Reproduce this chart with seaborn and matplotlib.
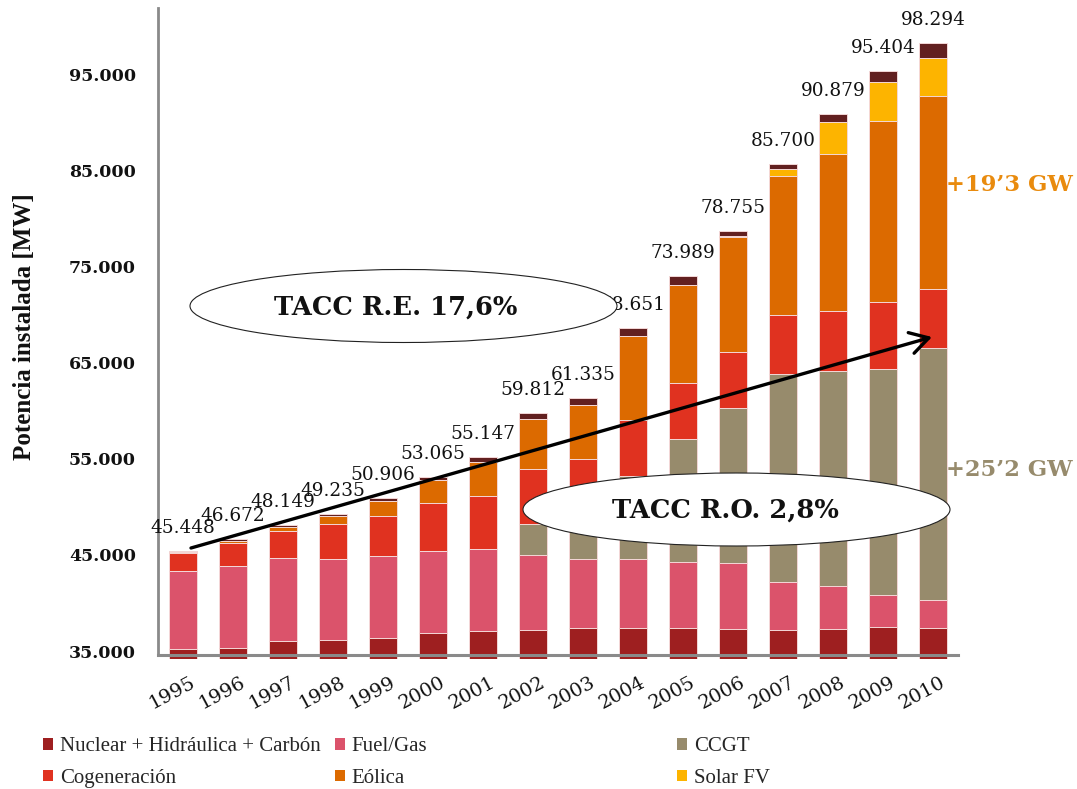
import numpy as np
import matplotlib
matplotlib.use("Agg")
import matplotlib.pyplot as plt
import matplotlib.transforms as mtransforms
from matplotlib.patches import Ellipse, Patch
import seaborn as sns

# Potencia instalada por tecnología (MW), 1995-2010
years = [str(y) for y in range(1995, 2011)]
nuclear_hidro_carbon = [35177, 35344, 36072, 36100, 36350, 36900, 37100, 37150,
                        37350, 37400, 37430, 37300, 37150, 37250, 37500, 37400]
fuel_gas = [8148, 8502, 8606, 8500, 8550, 8500, 8550, 7850,
            7250, 7220, 6870, 6850, 5050, 4550, 3330, 2900]
ccgt = [0, 0, 0, 0, 0, 0, 0, 3250,
        4600, 8580, 12750, 16100, 21600, 22350, 23500, 26200]
cogeneracion = [1842, 2393, 2778, 3650, 4150, 5050, 5450, 5700,
                5800, 5800, 5800, 5900, 6150, 6250, 7000, 6180]
eolica = [100, 208, 416, 760, 1600, 2300, 3560, 5230,
          5560, 8780, 10240, 11900, 14500, 16300, 18800, 20070]
solar_fv = [0, 0, 0, 0, 0, 0, 0, 0,
            0, 0, 0, 175, 700, 3380, 4050, 4000]
otras = [181, 225, 277, 225, 256, 315, 487, 632,
         775, 871, 899, 530, 550, 799, 1224, 1544]
totales = [45448, 46672, 48149, 49235, 50906, 53065, 55147, 59812,
           61335, 68651, 73989, 78755, 85700, 90879, 95404, 98294]

legend_labels = ["Nuclear + Hidráulica + Carbón", "Fuel/Gas", "CCGT",
                 "Cogeneración", "Eólica", "Solar FV"]
colors = ["#9E1F20", "#DB536B", "#978B6C", "#E03220", "#DC6A00", "#FDB400", "#622020"]

y_ticks = [35000, 45000, 55000, 65000, 75000, 85000, 95000]

sns.set_theme(style="white")
plt.rcParams["font.family"] = ["DejaVu Serif"]

W, H = 1077, 789
fig = plt.figure(figsize=(W / 100, H / 100), dpi=100)
ax = fig.add_axes([158 / W, 1 - 659 / H, 800 / W, 651 / H])


def fx(px):
    return px / W


def fy(py):
    return 1 - py / H


def miles(v):
    return f"{v:,}".replace(",", ".")


# stacked bars: draw the cumulative heights from the top layer down
layers = np.array([nuclear_hidro_carbon, fuel_gas, ccgt, cogeneracion,
                   eolica, solar_fv, otras])
cum = np.cumsum(layers, axis=0)
for k in reversed(range(len(layers))):
    sns.barplot(x=years, y=cum[k], color=colors[k], saturation=1, width=0.56,
                edgecolor="#f4d8d8", linewidth=0.7, errorbar=None, ax=ax, zorder=2)

y_bottom, y_axis, y_top = 34170, 34584, 101910
ax.set_xlim(-0.5, 15.5)
ax.set_ylim(y_bottom, y_top)

# axes styling
for side in ("top", "right"):
    ax.spines[side].set_visible(False)
axis_grey = "#8a8a8a"
ax.spines["left"].set_color(axis_grey)
ax.spines["left"].set_linewidth(2.0)
ax.spines["left"].set_bounds(y_axis, y_top)
ax.spines["bottom"].set_color(axis_grey)
ax.spines["bottom"].set_linewidth(2.2)
ax.spines["bottom"].set_position(("data", y_axis))
ax.grid(False)

ax.set_yticks(y_ticks)
ax.set_yticklabels([miles(v) for v in y_ticks], fontsize=12.5, fontweight="bold",
                   color="#111111")
ax.tick_params(axis="y", length=0, pad=16)

ax.set_xticks(range(len(years)))
ax.set_xticklabels(years, rotation=28, ha="right", rotation_mode="anchor",
                   fontsize=14, color="#111111")
ax.tick_params(axis="x", length=0, pad=13)
shift = mtransforms.ScaledTranslation(0.07, 0, fig.dpi_scale_trans)
for lab in ax.get_xticklabels():
    lab.set_transform(lab.get_transform() + shift)
ax.set_xlabel("")
ax.set_ylabel("")

# total labels above each bar
for i, t in enumerate(totales):
    ax.annotate(miles(t), xy=(i, t), xytext=(0, 16.5), textcoords="offset points",
                ha="center", va="center", fontsize=13.3, color="#111111", zorder=6)

# trend arrow
ax.annotate("", xy=(fx(932), fy(337)), xytext=(fx(191), fy(548)),
            xycoords="figure fraction", textcoords="figure fraction",
            arrowprops=dict(arrowstyle="->,head_length=0.6,head_width=0.35",
                            lw=2.4, color="black", mutation_scale=22,
                            shrinkA=0, shrinkB=0), zorder=5)

# growth-rate call-outs
for (cx, cy, txt, tx) in [(403.5, 306, "TACC R.E. 17,6%", 396),
                          (736.5, 509.5, "TACC R.O. 2,8%", 725)]:
    fig.add_artist(Ellipse((fx(cx), fy(cy)), 427 / W, 73 / H,
                           transform=fig.transFigure, facecolor="white",
                           edgecolor="#222222", linewidth=0.8, zorder=5))
    fig.text(fx(tx), fy(cy + 1), txt, ha="center", va="center", fontsize=18.5,
             fontweight="bold", color="#111111", zorder=6)

fig.text(fx(946), fy(185), "+19\u20193 GW", ha="left", va="center", fontsize=16.3,
         fontweight="bold", color="#E98B0E")
fig.text(fx(946), fy(470), "+25\u20192 GW", ha="left", va="center", fontsize=16.3,
         fontweight="bold", color="#978B6C")

fig.text(fx(25), fy(327), "Potencia instalada [MW]", rotation=90, ha="center",
         va="center", fontsize=18, fontweight="bold", family=["Liberation Serif"],
         color="#111111")

# legend in three columns
columns = [(43, [0, 3]), (335, [1, 4]), (677, [2, 5])]
for x0, idx in columns:
    handles = [Patch(facecolor=colors[j], edgecolor="none") for j in idx]
    fig.legend(handles, [legend_labels[j] for j in idx], loc="upper left",
               bbox_to_anchor=(fx(x0), fy(737)), frameon=False, borderpad=0,
               borderaxespad=0, handlelength=0.5, handleheight=0.5,
               handletextpad=0.3, labelspacing=0.62,
               prop={"family": ["Liberation Serif"], "size": 15})

fig.savefig("out.png", dpi=100)
